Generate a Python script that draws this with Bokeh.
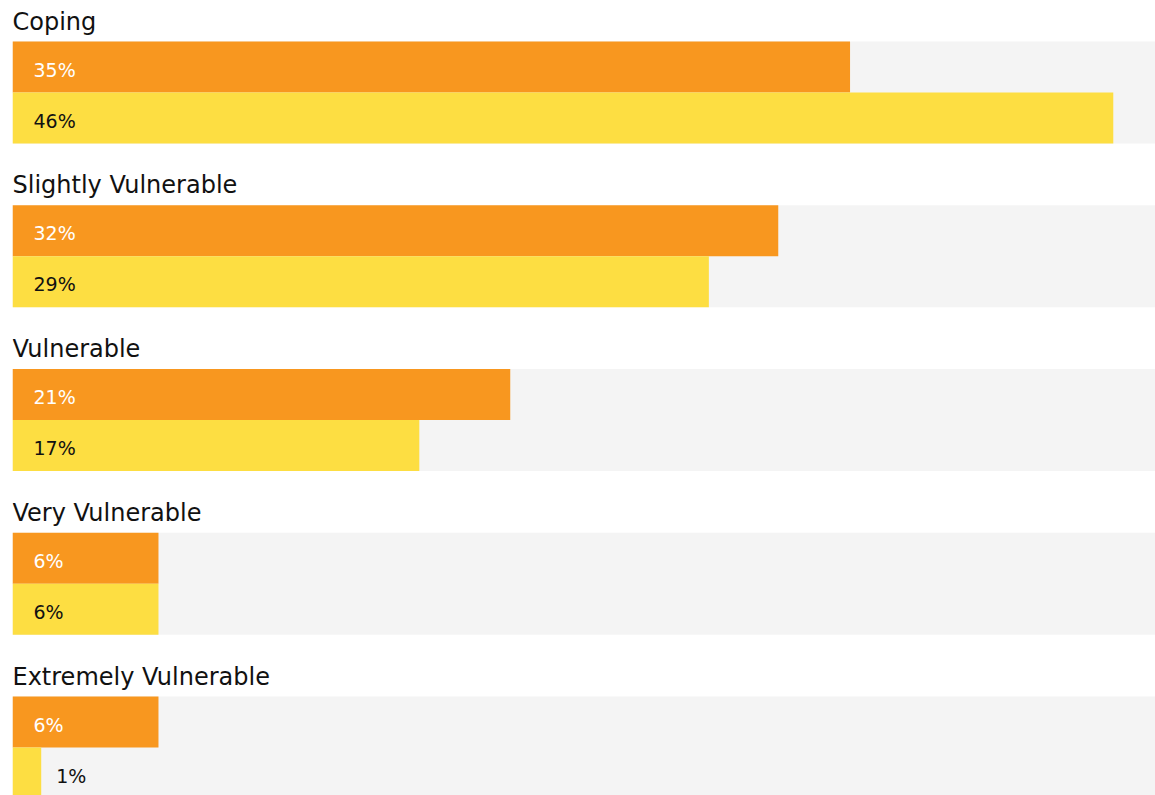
from bokeh.plotting import figure
from bokeh.models import Range1d
from bokeh.core.properties import value
from bokeh.embed import file_html
from bokeh.resources import INLINE

categories = ["Coping", "Slightly Vulnerable", "Vulnerable", "Very Vulnerable", "Extremely Vulnerable"]
series_a = [35, 32, 20.8, 6.1, 6.1]      # orange
series_b = [46, 29.1, 17, 6.1, 1.2]      # yellow

W, H = 1155, 795
LEFT = 12
PX_PER_UNIT = 23.93
XMAX = (W - LEFT) / PX_PER_UNIT

ORANGE = "#F8971F"
YELLOW = "#FDDE42"
GREY = "#F4F4F4"
FONT = "DejaVu Sans"
TXT_DY = -8

p = figure(width=W, height=H, output_backend="svg", toolbar_location=None,
           x_range=Range1d(0, XMAX), y_range=Range1d(H, 0),
           min_border_left=LEFT, min_border_right=0, min_border_top=0, min_border_bottom=0)
p.axis.visible = False
p.grid.visible = False
p.outline_line_color = None
p.background_fill_color = "white"
p.border_fill_color = "white"

GROUP0 = 41
STEP = 163.75
BAR_H = 51

n = len(categories)
tops = [GROUP0 + i * STEP for i in range(n)]

# grey backgrounds
p.quad(left=[0] * n, right=[XMAX] * n,
       top=tops, bottom=[t + 2 * BAR_H for t in tops],
       fill_color=GREY, line_color=None)

# orange bars
p.quad(left=[0] * n, right=series_a,
       top=tops, bottom=[t + BAR_H for t in tops],
       fill_color=ORANGE, line_color=None)
# yellow bars
p.quad(left=[0] * n, right=series_b,
       top=[t + BAR_H for t in tops], bottom=[t + 2 * BAR_H for t in tops],
       fill_color=YELLOW, line_color=None)

# category titles
p.text(x=[0.0] * n, y=[t - 12 + TXT_DY for t in tops], text=categories,
       text_font=value(FONT), text_font_size="24px", text_color="#111111",
       text_baseline="alphabetic", text_align="left")

def label_x(v):
    if v * PX_PER_UNIT < 60:
        return v + 15 / PX_PER_UNIT
    return 21 / PX_PER_UNIT

la_x = [label_x(v) for v in series_a]
lb_x = [label_x(v) for v in series_b]
la_t = [f"{round(v)}%" for v in series_a]
lb_t = [f"{round(v)}%" for v in series_b]
la_c = ["white" if v * PX_PER_UNIT >= 60 else "#111111" for v in series_a]

p.text(x=la_x, y=[t + BAR_H / 2 + 10.5 + TXT_DY for t in tops], text=la_t,
       text_font=value(FONT), text_font_size="19px", text_color=la_c,
       text_baseline="alphabetic", text_align="left")
p.text(x=lb_x, y=[t + BAR_H * 1.5 + 10.5 + TXT_DY for t in tops], text=lb_t,
       text_font=value(FONT), text_font_size="19px", text_color="#111111",
       text_baseline="alphabetic", text_align="left")

open("out.html", "w").write(file_html(p, INLINE))
